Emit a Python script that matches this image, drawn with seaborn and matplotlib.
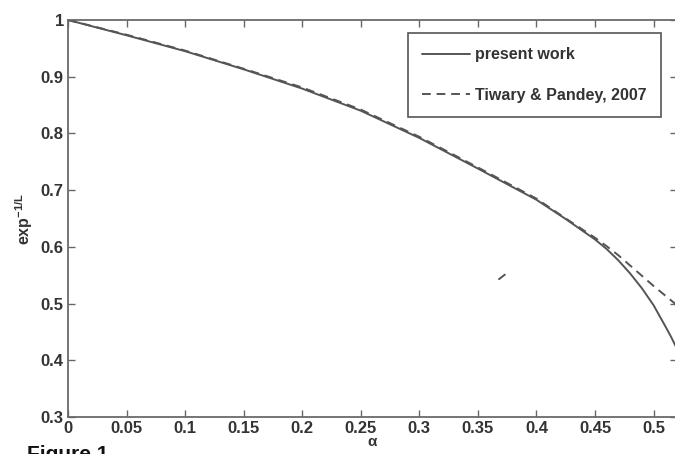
import pandas as pd
import matplotlib
matplotlib.use("Agg")
import matplotlib.pyplot as plt
import seaborn as sns

# values
alpha_present = [0, 0.05, 0.1, 0.15, 0.2, 0.25, 0.3, 0.35, 0.4, 0.425, 0.45,
                 0.46, 0.47, 0.48, 0.49, 0.5, 0.51, 0.515, 0.52]
exp_present = [1.0, 0.973, 0.945, 0.913, 0.879, 0.840, 0.792, 0.738, 0.683,
               0.649, 0.613, 0.596, 0.576, 0.553, 0.527, 0.497, 0.460, 0.441, 0.420]

alpha_tiwary = [0, 0.05, 0.1, 0.15, 0.2, 0.25, 0.3, 0.35, 0.4, 0.425, 0.45,
                0.46, 0.47, 0.48, 0.49, 0.5, 0.51, 0.52]
exp_tiwary = [1.0, 0.974, 0.946, 0.914, 0.881, 0.842, 0.794, 0.740, 0.685,
              0.650, 0.616, 0.601, 0.585, 0.567, 0.549, 0.531, 0.514, 0.497]

# small stray mark in the scanned figure
stray_x = [0.368, 0.373]
stray_y = [0.543, 0.551]

x_ticks = [0, 0.05, 0.1, 0.15, 0.2, 0.25, 0.3, 0.35, 0.4, 0.45, 0.5]
x_tick_labels = ["0", "0.05", "0.1", "0.15", "0.2", "0.25", "0.3", "0.35", "0.4", "0.45", "0.5"]
y_ticks = [0.3, 0.4, 0.5, 0.6, 0.7, 0.8, 0.9, 1.0]
y_tick_labels = ["0.3", "0.4", "0.5", "0.6", "0.7", "0.8", "0.9", "1"]

df_present = pd.DataFrame({"alpha": alpha_present, "val": exp_present})
df_tiwary = pd.DataFrame({"alpha": alpha_tiwary, "val": exp_tiwary})
df_stray = pd.DataFrame({"alpha": stray_x, "val": stray_y})

sns.set_style("white")
plt.rcParams["font.family"] = ["Liberation Sans", "DejaVu Sans"]
plt.rcParams["font.weight"] = "bold"
plt.rcParams["mathtext.fontset"] = "custom"
plt.rcParams["mathtext.rm"] = "Liberation Sans:bold"
plt.rcParams["mathtext.it"] = "Liberation Sans:bold"
plt.rcParams["mathtext.bf"] = "Liberation Sans:bold"
plt.rcParams["mathtext.default"] = "bf"

fig = plt.figure(figsize=(6.75, 4.54), dpi=100)
ax = fig.add_axes([0.1007, 0.0815, 0.9023, 0.8745])

line_col = "#555555"
sns.lineplot(data=df_present, x="alpha", y="val", ax=ax, color=line_col,
             linewidth=1.4, label="present work", sort=False)
sns.lineplot(data=df_tiwary, x="alpha", y="val", ax=ax, color=line_col,
             linewidth=1.4, linestyle=(0, (4.5, 3)), label="Tiwary & Pandey, 2007",
             sort=False)
sns.lineplot(data=df_stray, x="alpha", y="val", ax=ax, color=line_col,
             linewidth=1.4, legend=False, sort=False)

ax.set_xlim(0, 0.52)
ax.set_ylim(0.3, 1.0)
ax.set_xticks(x_ticks)
ax.set_xticklabels(x_tick_labels)
ax.set_yticks(y_ticks)
ax.set_yticklabels(y_tick_labels)
ax.tick_params(direction="in", length=5, width=1, colors="#666666",
               labelcolor="#333333", labelsize=12, top=True, right=True,
               bottom=True, left=True, pad=3)
for s in ax.spines.values():
    s.set_color("#6a6a6a")
    s.set_linewidth(1.3)

ax.set_xlabel("α", fontsize=11, fontweight="bold", color="#333333", labelpad=-1)
ax.set_ylabel(r"exp$^{-1/L}$", fontsize=11.5, fontweight="bold", color="#333333",
              labelpad=4)

leg = ax.legend(loc="upper right", bbox_to_anchor=(0.974, 0.967), fontsize=11.5,
                handlelength=3.0, labelspacing=1.6, borderpad=0.9,
                handletextpad=0.3, borderaxespad=0, fancybox=False,
                framealpha=1, edgecolor="#555555")
leg.get_frame().set_linewidth(1.2)
for t in leg.get_texts():
    t.set_color("#333333")

fig.text(0.04, 0.02, "Figure 1", fontsize=15, va="top", ha="left", color="#111111")

fig.savefig("out.png", dpi=100)
